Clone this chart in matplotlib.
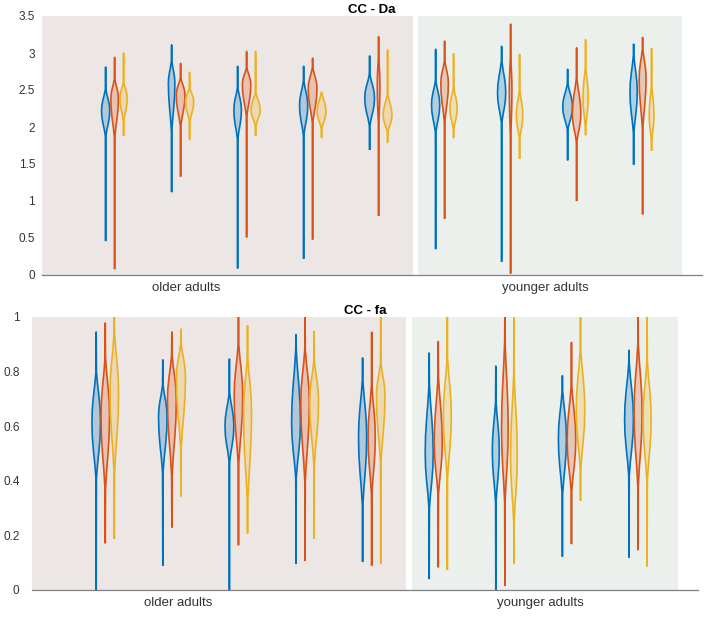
import numpy as np
import matplotlib.pyplot as plt
from matplotlib.patches import Rectangle
from matplotlib.ticker import FuncFormatter

plt.rcParams['font.family'] = ['Liberation Sans', 'DejaVu Sans']

# groups 1-5 older adults, 6-9 younger adults; three series per group
groups = np.arange(1, 10)
series_colors = ['#0072BD', '#D95319', '#EDB120']
group_labels = ['older adults', 'younger adults']

# ---- CC - Da : [blue, orange, yellow] per group ----
da_lo = [[0.47, 0.09, 1.89], [1.13, 1.34, 1.84], [0.10, 0.52, 1.89], [0.23, 0.49, 1.86], [1.70, 0.81, 1.80],
         [0.36, 0.77, 1.86], [0.19, 0.03, 1.58], [1.56, 1.01, 1.90], [1.50, 0.83, 1.69]]
da_hi = [[2.81, 2.94, 3.00], [3.11, 2.86, 2.74], [2.82, 3.02, 3.02], [2.82, 2.93, 2.47], [2.96, 3.22, 3.04],
         [3.05, 3.16, 2.99], [3.09, 3.39, 2.98], [2.78, 3.07, 3.18], [3.12, 3.21, 3.06]]
da_bot = [[1.88, 1.86, 2.08], [1.94, 2.02, 2.08], [1.84, 2.15, 2.02], [1.89, 2.06, 1.98], [2.02, 1.98, 1.93],
          [1.93, 2.06, 1.97], [2.06, 1.80, 1.84], [1.97, 1.80, 1.98], [1.92, 1.98, 1.80]]
da_mode = [[2.22, 2.38, 2.39], [2.59, 2.43, 2.34], [2.23, 2.57, 2.23], [2.29, 2.52, 2.21], [2.39, 2.55, 2.16],
           [2.30, 2.59, 2.25], [2.46, 2.50, 2.16], [2.27, 2.18, 2.41], [2.47, 2.65, 2.16]]
da_top = [[2.51, 2.65, 2.60], [2.89, 2.66, 2.53], [2.53, 2.80, 2.46], [2.62, 2.80, 2.46], [2.71, 3.00, 2.44],
          [2.62, 2.89, 2.53], [2.89, 3.00, 2.49], [2.58, 2.66, 2.82], [2.97, 3.06, 2.58]]
da_dens = [[.062, .057, .055], [.049, .066, .062], [.057, .064, .069], [.062, .066, .066], [.074, .020, .066],
           [.062, .057, .055], [.062, .020, .049], [.074, .064, .040], [.055, .052, .036]]

# ---- CC - fa ----
fa_lo = [[-0.02, 0.174, 0.19], [0.092, 0.232, 0.346], [-0.02, 0.167, 0.21], [0.098, 0.11, 0.19], [0.106, 0.092, 0.10],
         [0.043, 0.086, 0.076], [-0.02, 0.018, 0.098], [0.125, 0.171, 0.33], [0.122, 0.149, 0.089]]
fa_hi = [[0.945, 0.978, 1.02], [0.843, 0.945, 0.956], [0.846, 1.02, 0.968], [0.935, 1.02, 0.947], [0.850, 0.944, 1.02],
         [0.868, 0.910, 1.02], [0.820, 1.02, 1.02], [0.785, 0.907, 1.02], [0.878, 1.02, 1.02]]
fa_bot = [[0.41, 0.37, 0.43], [0.43, 0.42, 0.52], [0.47, 0.46, 0.32], [0.41, 0.40, 0.46], [0.31, 0.35, 0.47],
          [0.30, 0.35, 0.41], [0.32, 0.32, 0.25], [0.35, 0.36, 0.44], [0.42, 0.38, 0.40]]
fa_mode = [[0.615, 0.635, 0.72], [0.635, 0.695, 0.78], [0.60, 0.71, 0.65], [0.615, 0.685, 0.69], [0.56, 0.56, 0.71],
           [0.50, 0.54, 0.635], [0.51, 0.59, 0.49], [0.555, 0.55, 0.66], [0.625, 0.65, 0.625]]
fa_top = [[0.80, 0.85, 0.94], [0.75, 0.86, 0.90], [0.72, 0.90, 0.85], [0.88, 0.88, 0.84], [0.77, 0.75, 0.83],
          [0.75, 0.78, 0.85], [0.69, 0.91, 0.79], [0.73, 0.75, 0.88], [0.83, 0.90, 0.84]]
fa_dens = [[.064, .064, .064], [.064, .066, .068], [.066, .064, .060], [.066, .064, .066], [.061, .054, .064],
           [.060, .060, .060], [.052, .050, .050], [.060, .064, .064], [.066, .060, .060]]

offset = 0.136
# relative width along the bulge: tail, rising shoulder, peak, falling shoulder, tail
rise = np.array([0.06, 0.32, 0.66, 0.92])
steps = np.array([0.0, 0.25, 0.5, 0.75])


def draw_violin(ax, x, lo, bot, mode, top, hi, w, color):
    ys = np.r_[lo, bot + steps * (mode - bot), mode, (top - (top - mode) * steps)[::-1], hi]
    ws = np.r_[0, rise, 1, rise[::-1], 0] * w
    ax.fill_betweenx(ys, x - ws, x + ws, facecolor=color, alpha=0.25, lw=0, zorder=2)
    ax.plot(np.r_[x - ws, (x + ws)[::-1]], np.r_[ys, ys[::-1]], color=color, lw=1.2,
            solid_joinstyle='round', zorder=3)


def panel(ax, title, ymax, yticks, lo, hi, bot, mode, top, dens):
    ax.set_xlim(-0.1, 9.9)
    ax.set_ylim(0, ymax)
    ax.add_patch(Rectangle((-0.1, 0), 5.62, ymax, facecolor='#ece6e5', edgecolor='none', zorder=0))
    ax.add_patch(Rectangle((5.6, 0), 4.0, ymax, facecolor='#ecf0ed', edgecolor='none', zorder=0))
    for i, g in enumerate(groups):
        for j, c in enumerate(series_colors):
            draw_violin(ax, g + (j - 1) * offset, lo[i][j], bot[i][j], mode[i][j],
                        top[i][j], hi[i][j], dens[i][j], c)
    for s in ['top', 'right', 'left']:
        ax.spines[s].set_visible(False)
    ax.spines['bottom'].set_color('#808080')
    ax.spines['bottom'].set_linewidth(0.9)
    ax.set_yticks(yticks)
    ax.yaxis.set_major_formatter(FuncFormatter(lambda v, p: '%g' % v))
    ax.set_xticks([2.09, 7.53])
    ax.set_xticklabels(group_labels)
    ax.tick_params(length=0, labelsize=8.5, labelcolor='#333333')
    ax.tick_params(axis='x', pad=5, labelsize=9.5)
    ax.set_title(title, fontweight='bold', fontsize=9.5, pad=2)


fig = plt.figure(figsize=(7.09, 6.17), dpi=100)
ax1 = fig.add_axes([42 / 709, 1 - 275 / 617, 660 / 709, 259 / 617])
ax2 = fig.add_axes([32 / 709, 1 - 590 / 617, 666 / 709, 273 / 617])

panel(ax1, 'CC - Da', 3.5, np.arange(0, 3.51, 0.5), da_lo, da_hi, da_bot, da_mode, da_top, da_dens)
ax1.tick_params(axis='y', pad=5)
panel(ax2, 'CC - fa', 1.0, np.arange(0, 1.01, 0.2), fa_lo, fa_hi, fa_bot, fa_mode, fa_top, fa_dens)
ax2.tick_params(axis='y', pad=9)

fig.savefig('out.png', dpi=100)
